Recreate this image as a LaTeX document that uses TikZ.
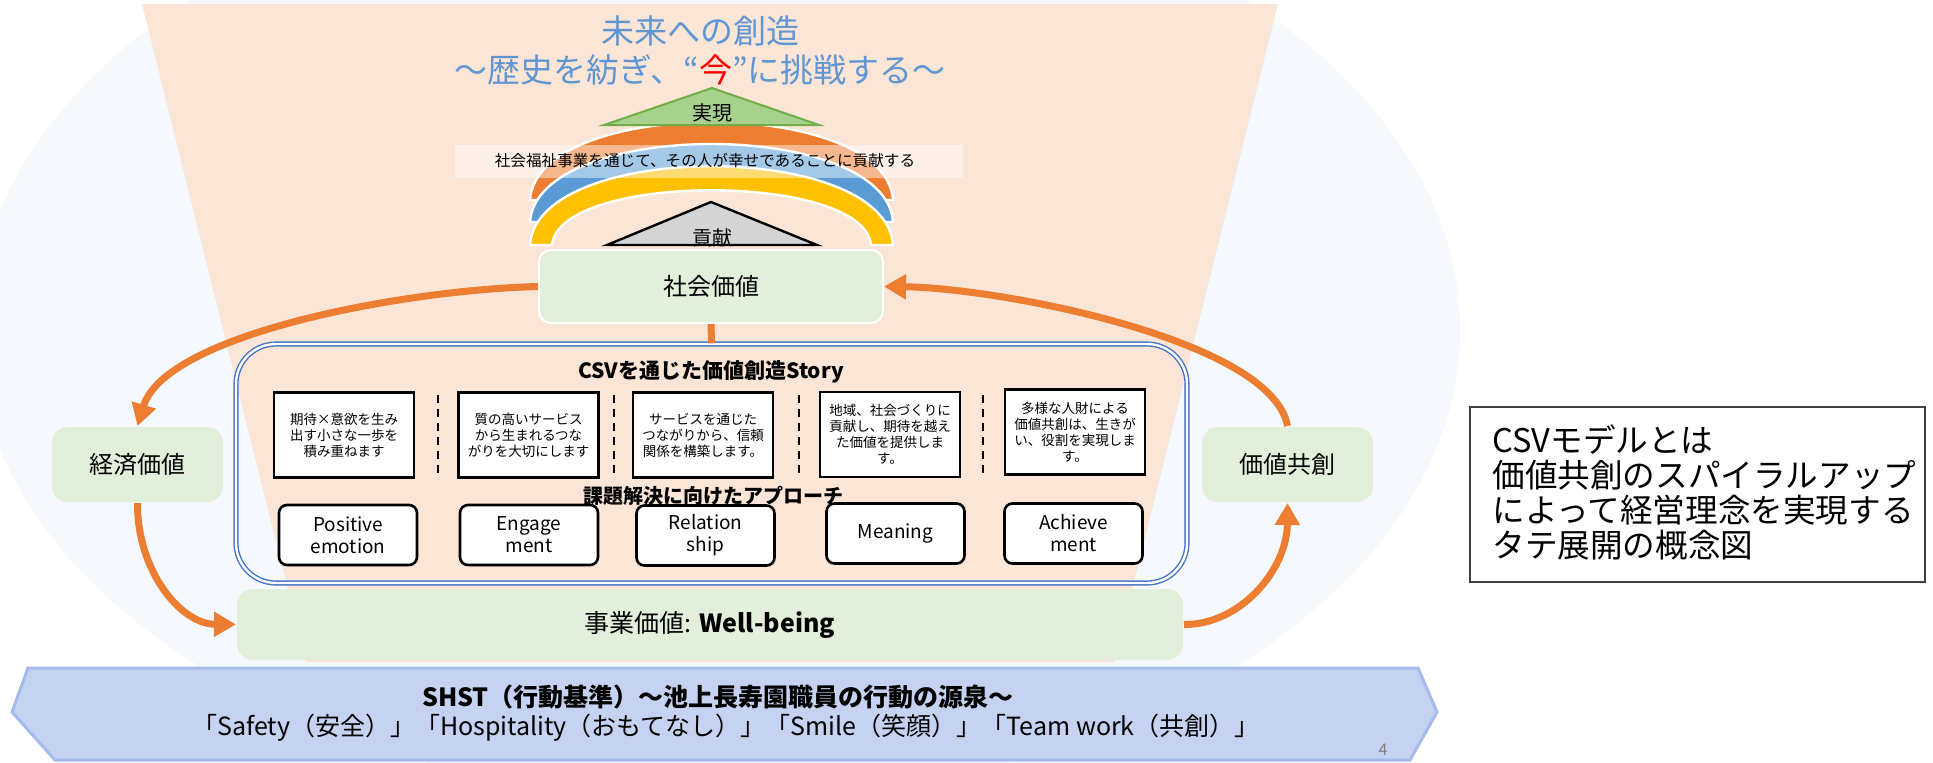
\documentclass[tikz,border=0pt]{standalone}
\usepackage{fontspec}
\setmainfont{Noto Sans CJK JP}
\usetikzlibrary{arrows.meta}
\definecolor{bgblue}{RGB}{245,249,253}
\definecolor{peach}{RGB}{251,229,214}
\definecolor{boxgreen}{RGB}{226,239,218}
\definecolor{arrorange}{RGB}{237,125,49}
\definecolor{rbblue}{RGB}{91,155,213}
\definecolor{rbyellow}{RGB}{255,192,0}
\definecolor{trigreen}{RGB}{169,209,142}
\definecolor{trigreenline}{RGB}{112,173,71}
\definecolor{framblue}{RGB}{68,114,196}
\definecolor{titleblue}{RGB}{95,150,210}
\definecolor{shstfill}{RGB}{198,210,241}
\definecolor{shstline}{RGB}{165,188,235}
\definecolor{greytri}{RGB}{212,212,212}
\begin{document}
\begin{tikzpicture}[x=0.5pt,y=-0.5pt,
  greenbox/.style={fill=boxgreen, rounded corners=6pt, draw=white, line width=1pt, inner sep=0pt},
  storybox/.style={draw=black, line width=1.2pt, fill=white, minimum width=70pt, minimum height=42.5pt, align=center, inner sep=0pt, font=\fontsize{6.75pt}{8pt}\selectfont},
  permabox/.style={draw=black, line width=1.3pt, fill=white, rounded corners=4pt, minimum width=69pt, minimum height=30pt, align=center, inner sep=0pt, font=\fontsize{9.5pt}{11pt}\selectfont},
  arr/.style={draw=arrorange, line width=3.5pt, -{Triangle[length=11pt,width=12pt]}},
  sepline/.style={draw=black, line width=1pt, dash pattern=on 4pt off 3pt},
  crescent/.style={draw=white, line width=1.2pt}
]
\useasboundingbox (0,0) rectangle (1933,762);
\clip (0,0) rectangle (1933,762);
\fill[white] (0,0) rectangle (1933,762);
% background shapes
\fill[bgblue] (718,330) ellipse [x radius=371pt, y radius=235pt];
\fill[peach] (142,4) -- (1278,4) -- (1114,662) -- (306,662) -- cycle;

% title
\node[text=titleblue, font=\fontsize{16.5pt}{18pt}\selectfont, inner sep=0pt] (title1) at (700,31) {未来への創造};
\node[text=titleblue, font=\fontsize{16.5pt}{18pt}\selectfont, inner sep=0pt] (title2) at (700,70) {～歴史を紡ぎ、“\textcolor{red}{今}”に挑戦する～};

% rainbow bands
\filldraw[crescent, fill=arrorange] (530,200) .. controls (537,96) and (886,96) .. (893,200) -- (871,200) .. controls (864,128) and (559,128) .. (552,200) -- cycle;
\filldraw[crescent, fill=rbblue] (530,222) .. controls (537,118) and (886,118) .. (893,222) -- (871,222) .. controls (864,150) and (559,150) .. (552,222) -- cycle;
\filldraw[crescent, fill=rbyellow] (530,245) .. controls (537,140) and (886,140) .. (893,245) -- (871,245) .. controls (864,172) and (559,172) .. (552,245) -- cycle;

% green triangle
\filldraw[fill=trigreen, draw=trigreenline, line width=1pt] (712,88) -- (819,125) -- (604,125) -- cycle;
\node[font=\fontsize{10pt}{12pt}\selectfont, inner sep=0pt] (jitsugen) at (712,113) {実現};

% mission banner
\fill[white, opacity=0.45] (455,145) rectangle (963,178);
\node[font=\fontsize{7.8pt}{9pt}\selectfont, inner sep=0pt] (mission) at (705,161) {社会福祉事業を通じて、その人が幸せであることに貢献する};

% grey triangle
\filldraw[fill=greytri, draw=black, line width=1.2pt] (711,202) -- (817,245) -- (607,245) -- cycle;
\node[font=\fontsize{10pt}{12pt}\selectfont, inner sep=0pt] (kouken) at (712,238) {貢献};

% social value
\node[greenbox, minimum width=172pt, minimum height=36.5pt, font=\fontsize{12pt}{14pt}\selectfont] (shakai) at (711,286.5) {社会価値};

% CSV frame
\node[draw=framblue, line width=0.7pt, double=white, double distance=1.2pt, rounded corners=20pt, minimum width=475.5pt, minimum height=119.5pt, inner sep=0pt] (frame) at (711.5,463.5) {};
\draw[draw=arrorange, line width=3.5pt] (shakai.south) -- (frame.north);

\node[font=\bfseries\fontsize{10.5pt}{12pt}\selectfont, inner sep=0pt] (storytitle) at (711,372) {CSVを通じた価値創造Story};

\node[storybox] (s1) at (344,435) {期待×意欲を生み\\出す小さな一歩を\\積み重ねます};
\node[storybox] (s2) at (528.5,435) {質の高いサービス\\から生まれるつな\\がりを大切にします};
\node[storybox] (s3) at (703,435) {サービスを通じた\\つながりから、信頼\\関係を構築します。};
\node[storybox] (s4) at (890,434.5) {地域、社会づくりに\\貢献し、期待を越え\\た価値を提供しま\\す。};
\node[storybox] (s5) at (1075,432) {多様な人財による\\価値共創は、生きが\\い、役割を実現しま\\す。};

\draw[sepline] (438,395) -- (438,476);
\draw[sepline] (614,395) -- (614,476);
\draw[sepline] (799,395) -- (799,476);
\draw[sepline] (983,395) -- (983,476);

\node[font=\bfseries\fontsize{10pt}{12pt}\selectfont, inner sep=0pt] (approach) at (713,496) {課題解決に向けたアプローチ};

\node[permabox] (p1) at (348,535) {Positive\\emotion};
\node[permabox] (p2) at (529,535) {Engage\\ment};
\node[permabox] (p3) at (705.5,535.5) {Relation\\ship};
\node[permabox] (p4) at (895.5,533.5) {Meaning};
\node[permabox] (p5) at (1073.5,533.5) {Achieve\\ment};

% side and bottom boxes
\node[greenbox, draw=none, rounded corners=8pt, minimum width=85.5pt, minimum height=37.5pt, font=\fontsize{12pt}{14pt}\selectfont] (keizai) at (137.5,464.5) {経済価値};
\node[greenbox, draw=none, rounded corners=8pt, minimum width=85.5pt, minimum height=37.5pt, font=\fontsize{12pt}{14pt}\selectfont] (kyoso) at (1287.5,464.5) {価値共創};
\node[greenbox, draw=none, rounded corners=8pt, minimum width=473pt, minimum height=35.5pt, font=\fontsize{12.5pt}{14pt}\selectfont] (jigyo) at (710,624.5) {事業価値: \textbf{Well-being}};

% arrows
\draw[arr] (shakai.west) .. controls (400,290) and (165,335) .. (keizai.north);
\draw[arr] (keizai.south) .. controls (137,570) and (180,624) .. (jigyo.west);
\draw[arr] (jigyo.east) .. controls (1240,625) and (1287,570) .. (kyoso.south);
\draw[arr] (kyoso.north) .. controls (1272,340) and (1000,288) .. (shakai.east);

% SHST banner
\filldraw[fill=shstfill, draw=shstline, line width=1.5pt] (28,668) -- (1418,668) -- (1437,712) -- (1410,760) -- (55,760) -- (12,712) -- cycle;
\node[font=\bfseries\fontsize{12.5pt}{14pt}\selectfont, inner sep=0pt] (shst1) at (718,697) {SHST（行動基準）～池上長寿園職員の行動の源泉～};
\node[font=\fontsize{12.5pt}{14pt}\selectfont, inner sep=0pt] (shst2) at (726,728) {「Safety（安全）」「Hospitality（おもてなし）」「Smile（笑顔）」「Team work（共創）」};
\node[text=gray, font=\fontsize{8pt}{9pt}\selectfont, inner sep=0pt] (pagenum) at (1383,750) {4};

% right explanation box
\node[draw={rgb,255:red,64;green,64;blue,64}, line width=0.8pt, minimum width=227.5pt, minimum height=87.5pt, inner sep=0pt] (rbox) at (1697.5,494.5) {};
\node[anchor=west, align=left, font=\fontsize{16.3pt}{17.5pt}\selectfont, inner sep=0pt] (rtext) at (1492,492) {CSVモデルとは\\価値共創のスパイラルアップ\\によって経営理念を実現する\\タテ展開の概念図};
\end{tikzpicture}
\end{document}
